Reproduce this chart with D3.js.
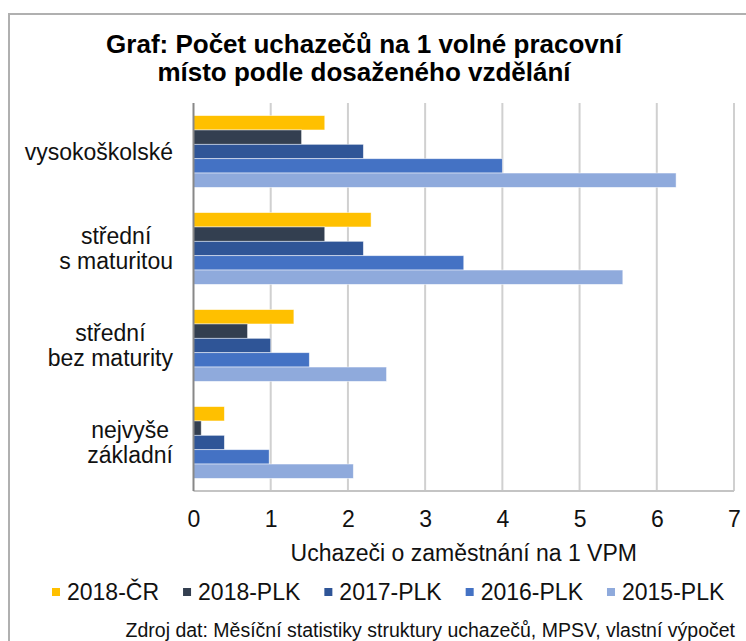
<!DOCTYPE html>
<html>
<head>
<meta charset="utf-8">
<script src="https://cdn.jsdelivr.net/npm/d3@7"></script>
<style>
  html, body { margin: 0; padding: 0; background: #fff; }
  svg { display: block; font-family: "Liberation Sans", Arial, sans-serif; }
</style>
</head>
<body>
<svg id="chart" width="746" height="641"></svg>
<script>
const categories = [
  ["vysokoškolské"],
  ["střední", "s maturitou"],
  ["střední", "bez maturity"],
  ["nejvyše", "základní"]
];
const seriesNames = ["2018-ČR", "2018-PLK", "2017-PLK", "2016-PLK", "2015-PLK"];
const seriesColors = ["#ffc000", "#333f50", "#2f5597", "#4472c4", "#8faadc"];
// values per category, in series order
const cr2018 = [1.7, 2.3, 1.3, 0.4];
const plk2018 = [1.4, 1.7, 0.7, 0.1];
const plk2017 = [2.2, 2.2, 1.0, 0.4];
const plk2016 = [4.0, 3.5, 1.5, 0.98];
const plk2015 = [6.25, 5.56, 2.5, 2.07];
const seriesValues = [cr2018, plk2018, plk2017, plk2016, plk2015];
const xTicks = [0, 1, 2, 3, 4, 5, 6, 7];

const svg = d3.select("#chart");
const plot = { left: 193.5, right: 734, top: 103, bottom: 491 };

// chart frame
svg.append("rect")
  .attr("x", 9).attr("y", 14)
  .attr("width", 760).attr("height", 660)
  .attr("fill", "none")
  .attr("stroke", "#b0b0b0")
  .attr("stroke-width", 2);

// title
const title = svg.append("text")
  .attr("text-anchor", "middle")
  .style("font-size", "26px")
  .style("font-weight", "bold")
  .style("fill", "#000");
title.append("tspan").attr("x", 364).attr("y", 53).text("Graf: Počet uchazečů na 1 volné pracovní");
title.append("tspan").attr("x", 364).attr("y", 81).text("místo podle dosaženého vzdělání");

const x = d3.scaleLinear().domain([0, 7]).range([plot.left, plot.right]);
const catIdx = categories.map((d, i) => i);
const y0 = d3.scaleBand().domain(catIdx).range([plot.top, plot.bottom])
  .paddingInner(0.26).paddingOuter(0.13);
const y1 = d3.scaleBand().domain(seriesNames).range([0, y0.bandwidth()]);

// gridlines
svg.append("g")
  .selectAll("line")
  .data(xTicks.slice(1))
  .join("line")
  .attr("x1", d => x(d)).attr("x2", d => x(d))
  .attr("y1", plot.top).attr("y2", plot.bottom)
  .attr("stroke", "#d0d0d0")
  .attr("stroke-width", 2);

// bottom line
svg.append("line")
  .attr("x1", plot.left).attr("x2", plot.right)
  .attr("y1", plot.bottom).attr("y2", plot.bottom)
  .attr("stroke", "#c4c4c4")
  .attr("stroke-width", 2);

// bars
const groups = svg.append("g")
  .selectAll("g")
  .data(catIdx)
  .join("g")
  .attr("transform", i => `translate(0,${y0(i)})`);

groups.selectAll("rect")
  .data(i => seriesNames.map((s, k) => ({ s, k, v: seriesValues[k][i] })))
  .join("rect")
  .attr("x", x(0))
  .attr("y", d => y1(d.s))
  .attr("width", d => x(d.v) - x(0))
  .attr("height", y1.bandwidth())
  .attr("fill", d => seriesColors[d.k])
  .attr("stroke", "#ffffff")
  .attr("stroke-opacity", 0.6)
  .attr("stroke-width", 0.8);

// y axis line
svg.append("line")
  .attr("x1", plot.left).attr("x2", plot.left)
  .attr("y1", plot.top).attr("y2", plot.bottom)
  .attr("stroke", "#888")
  .attr("stroke-width", 2);

// category labels: block right-aligned, lines centred within block
const labelRight = 173;
const lineH = 25;
const labelG = svg.append("g")
  .style("font-size", "23px")
  .style("fill", "#111");
categories.forEach((lines, i) => {
  const cy = y0(i) + y0.bandwidth() / 2;
  const t = labelG.append("text").attr("text-anchor", "middle");
  const spans = lines.map((ln, j) => t.append("tspan")
    .attr("y", cy + (j - (lines.length - 1) / 2) * lineH + 8)
    .text(ln));
  const maxW = d3.max(spans, s => s.node().getComputedTextLength());
  spans.forEach(s => s.attr("x", labelRight - maxW / 2));
});

// x axis tick labels
svg.append("g")
  .attr("transform", `translate(0,${plot.bottom})`)
  .call(d3.axisBottom(x).tickValues(xTicks).tickSize(0).tickPadding(20).tickFormat(d3.format("d")))
  .call(g => g.select(".domain").remove())
  .call(g => g.selectAll("text")
    .style("font-size", "23px")
    .style("font-family", "'Liberation Sans', Arial, sans-serif")
    .attr("fill", "#111"));

// axis title
svg.append("text")
  .attr("x", (plot.left + plot.right) / 2)
  .attr("y", 561)
  .attr("text-anchor", "middle")
  .style("font-size", "23px")
  .style("fill", "#111")
  .text("Uchazeči o zaměstnání na 1 VPM");

// legend
const legend = svg.append("g").attr("transform", "translate(52,592)");
let lx = 0;
seriesNames.forEach((name, k) => {
  const item = legend.append("g").attr("transform", `translate(${lx},0)`);
  item.append("rect")
    .attr("x", 0).attr("y", -4)
    .attr("width", 8).attr("height", 8)
    .attr("fill", seriesColors[k]);
  const t = item.append("text")
    .attr("x", 15).attr("y", 8)
    .style("font-size", "23px")
    .style("fill", "#111")
    .text(name);
  lx += 15 + t.node().getComputedTextLength() + 24;
});

// source
svg.append("text")
  .attr("x", 735)
  .attr("y", 637)
  .attr("text-anchor", "end")
  .style("font-size", "19.5px")
  .style("fill", "#111")
  .text("Zdroj dat: Měsíční statistiky struktury uchazečů, MPSV, vlastní výpočet");
</script>
</body>
</html>
